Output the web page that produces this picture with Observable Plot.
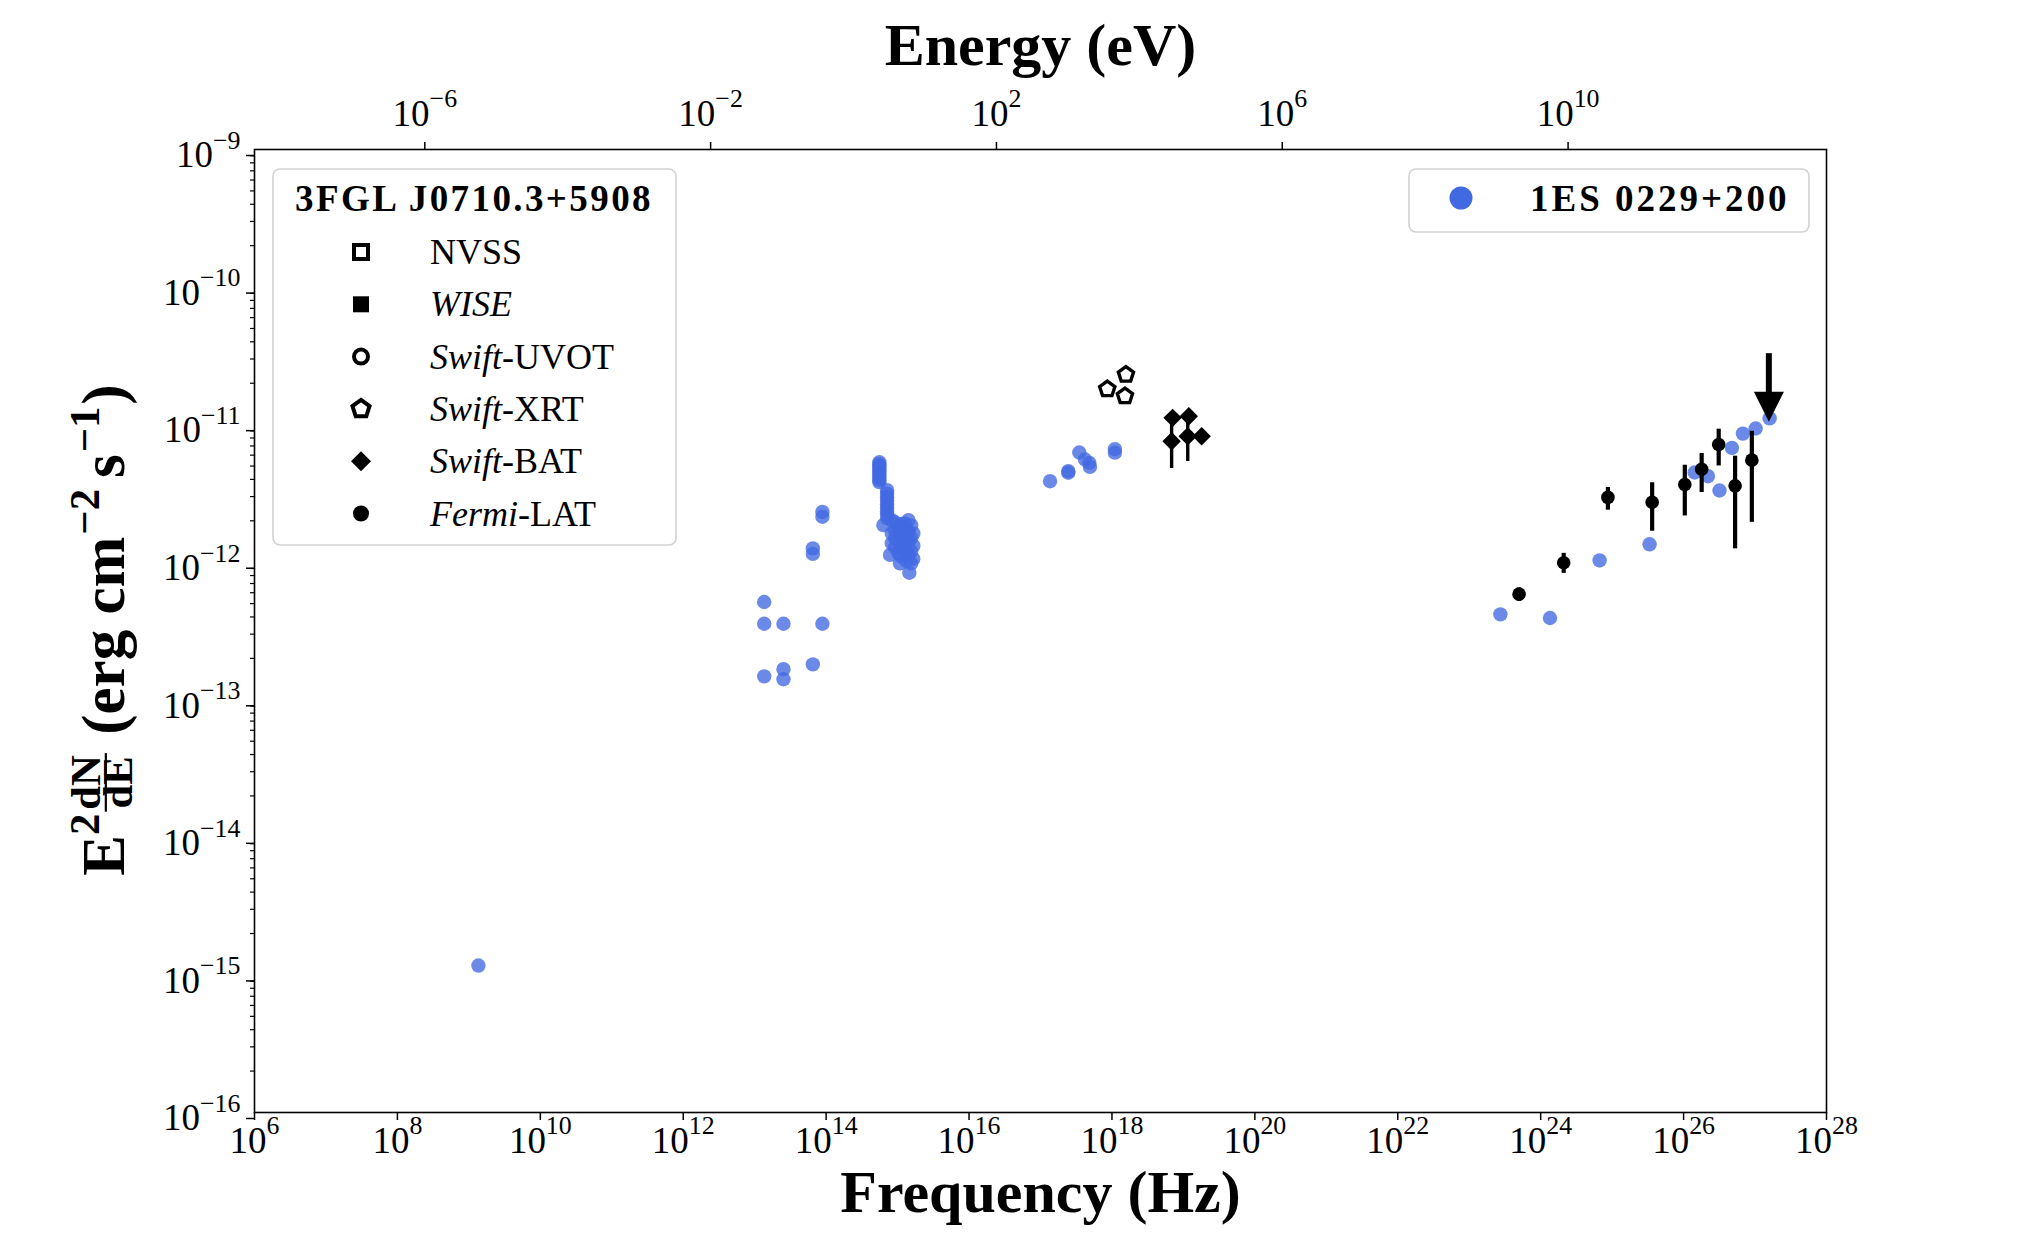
<!DOCTYPE html>
<html>
<head>
<meta charset="utf-8">
<script src="https://cdn.jsdelivr.net/npm/d3@7"></script>
<script src="https://cdn.jsdelivr.net/npm/@observablehq/plot@0.6"></script>
<style>
  html, body { margin: 0; padding: 0; background: #fff; }
  #chart svg { display: block; overflow: visible; }
</style>
</head>
<body>
<div id="chart"></div>
<script>
// Planck constant in eV·s, links the frequency axis to the energy axis
const H_EV = 4.135667696e-15;
const SERIF = "'Liberation Serif', 'DejaVu Serif', serif";

// ---- 1ES 0229+200 : archival SED points [frequency Hz, νFν erg cm^-2 s^-1]
const sedRadio = [[1.36e9, 1.17e-15]];
const sedInfrared = [
  [1.36e13, 5.14e-13], [1.36e13, 3.57e-13], [1.36e13, 1.48e-13],
  [2.53e13, 3.57e-13], [2.53e13, 1.67e-13], [2.53e13, 1.41e-13],
  [6.52e13, 1.26e-12], [6.52e13, 1.15e-12], [6.52e13, 1.81e-13],
  [8.87e13, 2.32e-12], [8.87e13, 2.14e-12], [8.87e13, 3.57e-13]
];
const sedOpticalUV = [
  [5.56e14, 5.33e-12], [5.56e14, 5.16e-12], [5.56e14, 4.99e-12], [5.56e14, 4.83e-12],
  [5.56e14, 4.67e-12], [5.56e14, 4.52e-12], [5.56e14, 4.37e-12], [5.56e14, 4.23e-12],
  [5.56e14, 4.09e-12], [5.56e14, 3.95e-12], [5.56e14, 3.82e-12],
  [7.13e14, 3.34e-12], [7.13e14, 3.15e-12], [7.13e14, 2.97e-12], [7.13e14, 2.80e-12],
  [7.13e14, 2.64e-12], [7.13e14, 2.50e-12], [7.13e14, 2.35e-12], [7.13e14, 2.22e-12],
  [7.13e14, 2.09e-12], [6.33e14, 1.86e-12],
  [8.30e14, 2.02e-12], [8.30e14, 1.62e-12], [8.30e14, 1.37e-12], [7.85e14, 1.13e-12],
  [9.20e14, 1.95e-12], [9.20e14, 1.70e-12], [9.20e14, 1.50e-12], [9.20e14, 1.28e-12],
  [1.03e15, 1.81e-12], [1.03e15, 1.45e-12], [1.03e15, 1.16e-12], [1.08e15, 9.80e-13],
  [1.12e15, 1.90e-12], [1.12e15, 1.65e-12], [1.12e15, 1.38e-12], [1.12e15, 1.10e-12],
  [1.20e15, 1.53e-12], [1.20e15, 1.22e-12], [1.27e15, 1.91e-12],
  [1.33e15, 1.75e-12], [1.33e15, 1.45e-12], [1.33e15, 1.22e-12], [1.33e15, 1.02e-12],
  [1.42e15, 2.02e-12], [1.42e15, 1.66e-12], [1.42e15, 1.37e-12], [1.42e15, 1.13e-12],
  [1.46e15, 8.38e-13],
  [1.55e15, 1.85e-12], [1.55e15, 1.50e-12], [1.55e15, 1.20e-12], [1.55e15, 9.80e-13],
  [1.66e15, 1.62e-12], [1.66e15, 1.32e-12], [1.66e15, 1.06e-12]
];
const sedXray = [
  [1.36e17, 3.88e-12], [2.45e17, 4.59e-12], [2.45e17, 4.47e-12],
  [3.49e17, 6.27e-12], [4.19e17, 5.58e-12], [4.82e17, 5.27e-12],
  [4.92e17, 4.93e-12], [1.10e18, 6.64e-12], [1.10e18, 6.26e-12]
];
const sedGamma = [
  [2.73e23, 4.18e-13], [1.35e24, 3.93e-13], [6.68e24, 1.03e-12],
  [3.34e25, 1.35e-12], [1.43e26, 4.49e-12], [2.19e26, 4.22e-12],
  [3.18e26, 3.32e-12], [4.74e26, 6.78e-12], [6.76e26, 8.61e-12],
  [1.02e27, 9.37e-12], [1.60e27, 1.11e-11]
];

// ---- 3FGL J0710.3+5908
// Swift-XRT [frequency, flux]
const xrtPoints = [[8.6e17, 1.81e-11], [1.52e18, 1.61e-11], [1.57e18, 2.31e-11]];
// Swift-BAT [frequency, flux, lower, upper]
const batPoints = [
  [7.06e18, 1.12e-11, 1.05e-11, 1.20e-11],
  [1.19e19, 1.15e-11, 1.08e-11, 1.22e-11],
  [6.84e18, 7.57e-12, 4.80e-12, 1.03e-11],
  [1.15e19, 8.24e-12, 5.40e-12, 1.10e-11],
  [1.80e19, 8.24e-12, 7.40e-12, 9.10e-12]
];
// Fermi-LAT [frequency, flux, lower, upper]
const latPoints = [
  [4.98e23, 5.86e-13, 5.20e-13, 6.50e-13],
  [2.10e24, 9.91e-13, 8.30e-13, 1.16e-12],
  [8.73e24, 2.96e-12, 2.39e-12, 3.49e-12],
  [3.63e25, 2.73e-12, 1.68e-12, 3.78e-12],
  [1.04e26, 3.67e-12, 2.17e-12, 5.07e-12],
  [1.79e26, 4.74e-12, 3.21e-12, 6.17e-12],
  [3.10e26, 7.17e-12, 5.01e-12, 9.27e-12],
  [5.26e26, 3.59e-12, 1.25e-12, 5.90e-12],
  [9.02e26, 5.52e-12, 1.95e-12, 8.95e-12]
];
// Fermi-LAT upper limit [frequency, top of shaft, limit]
const latUpperLimits = [[1.56e27, 3.28e-11, 1.05e-11]];

// ---- axis ticks
const freqTicks = [1e6, 1e8, 1e10, 1e12, 1e14, 1e16, 1e18, 1e20, 1e22, 1e24, 1e26, 1e28];
const energyTicks = [1e-6, 1e-2, 1e2, 1e6, 1e10];
const fluxTicks = [1e-16, 1e-15, 1e-14, 1e-13, 1e-12, 1e-11, 1e-10, 1e-9];
const fluxMinorTicks = fluxTicks.slice(0, -1).flatMap(d => [2, 3, 4, 5, 6, 7, 8, 9].map(k => k * d));

// ---- legend entries
const sourceName = "3FGL J0710.3+5908";
const referenceName = "1ES 0229+200";
const legendEntries = [
  {parts: [["NVSS", false]], marker: "squareOpen"},
  {parts: [["WISE", true]], marker: "square"},
  {parts: [["Swift", true], ["-UVOT", false]], marker: "circleOpen"},
  {parts: [["Swift", true], ["-XRT", false]], marker: "pentagon"},
  {parts: [["Swift", true], ["-BAT", false]], marker: "diamond"},
  {parts: [["Fermi", true], ["-LAT", false]], marker: "dot"}
];

const BLUE = "#4169E1";
const TICK_FONT = 37;

// custom marker shapes
const pentagon = {
  draw(ctx, size) {
    const r = Math.sqrt(size / Math.PI);
    for (let i = 0; i < 5; ++i) {
      const a = -Math.PI / 2 + i * 2 * Math.PI / 5;
      const px = r * Math.cos(a), py = r * Math.sin(a);
      if (i === 0) ctx.moveTo(px, py); else ctx.lineTo(px, py);
    }
    ctx.closePath();
  }
};
const arrowHead = {
  draw(ctx, size) {
    const r = Math.sqrt(size / Math.PI);
    ctx.moveTo(0, 0);
    ctx.lineTo(-r, -2 * r);
    ctx.lineTo(r, -2 * r);
    ctx.closePath();
  }
};

const expLabel = v => String(Math.round(Math.log10(v)));

const referenceSED = [
  ...sedRadio, ...sedInfrared, ...sedOpticalUV, ...sedXray, ...sedGamma
].map(([nu, f]) => ({nu, f}));
const xrt = xrtPoints.map(([nu, f]) => ({nu, f}));
const bat = batPoints.map(([nu, f, lo, hi]) => ({nu, f, lo, hi}));
const lat = latPoints.map(([nu, f, lo, hi]) => ({nu, f, lo, hi}));
const ul = latUpperLimits.map(([nu, top, lim]) => ({nu, top, lim}));

const chart = Plot.plot({
  width: 2032,
  height: 1250,
  marginLeft: 254,
  marginRight: 206,
  marginTop: 149,
  marginBottom: 138,
  style: {fontFamily: SERIF, background: "#fff", color: "#000"},
  x: {type: "log", domain: [1e6, 1e28]},
  y: {type: "log", domain: [1e-16, 1e-9]},
  marks: [
    Plot.axisX({anchor: "bottom", ticks: freqTicks, tickFormat: expLabel, tickSize: 8,
      tickPadding: 6, fontSize: TICK_FONT, strokeWidth: 1.5, label: null}),
    Plot.axisX({anchor: "top", ticks: energyTicks.map(e => e / H_EV),
      tickFormat: nu => expLabel(nu * H_EV), tickSize: 8, tickPadding: 16,
      fontSize: TICK_FONT, strokeWidth: 1.5, label: null}),
    Plot.axisY({anchor: "left", ticks: fluxTicks, tickFormat: expLabel, tickSize: 8,
      tickPadding: 6, fontSize: TICK_FONT, strokeWidth: 1.5, dy: 6, label: null}),
    Plot.axisY({anchor: "left", ticks: fluxMinorTicks, tickFormat: () => "", tickSize: 4,
      strokeWidth: 1.2, label: null}),
    Plot.frame({stroke: "#000", strokeWidth: 1.6}),

    // 1ES 0229+200
    Plot.dot(referenceSED, {x: "nu", y: "f", r: 7.2, fill: BLUE, fillOpacity: 0.78}),

    // 3FGL J0710.3+5908
    Plot.dot(xrt, {x: "nu", y: "f", symbol: pentagon, r: 8, fill: "none", stroke: "#000", strokeWidth: 3.4}),
    Plot.ruleX(bat, {x: "nu", y1: "lo", y2: "hi", stroke: "#000", strokeWidth: 3.4}),
    Plot.dot(bat, {x: "nu", y: "f", symbol: "diamond2", r: 8.3, fill: "#000"}),
    Plot.ruleX(lat, {x: "nu", y1: "lo", y2: "hi", stroke: "#000", strokeWidth: 4.2}),
    Plot.dot(lat, {x: "nu", y: "f", r: 6.8, fill: "#000"}),
    Plot.ruleX(ul, {x: "nu", y1: "top", y2: "lim", stroke: "#000", strokeWidth: 6, insetBottom: 24}),
    Plot.dot(ul, {x: "nu", y: "lim", symbol: arrowHead, r: 15, fill: "#000"}),

    // axis titles
    Plot.text(["Energy (eV)"], {frameAnchor: "top", lineAnchor: "middle", text: d => d, dy: -104,
      fontSize: 60, fontWeight: "bold", fill: "#000"}),
    Plot.text(["Frequency (Hz)"], {frameAnchor: "bottom", lineAnchor: "middle", text: d => d, dy: 80,
      fontSize: 60, fontWeight: "bold", fill: "#000"})
  ]
});

document.getElementById("chart").appendChild(chart);
const svg = d3.select(chart);

// tick labels as powers of ten
svg.selectAll('g[aria-label$="tick label"] text').each(function () {
  const exp = this.textContent;
  if (!exp) return;
  const t = d3.select(this);
  t.text(null);
  t.append("tspan").attr("font-size", TICK_FONT).text("10");
  t.append("tspan").attr("dy", -0.5 * TICK_FONT).attr("font-size", 0.7 * TICK_FONT)
    .text(exp.replace("-", "\u2212"));
});

// y-axis title: E² dN/dE (erg cm⁻² s⁻¹)
{
  const F = 61;
  const outer = svg.append("g").attr("transform", `translate(${104 + 0.33 * F},630) rotate(-90)`);
  const g = outer.append("g").attr("font-weight", "bold").attr("fill", "#000")
    .attr("font-family", SERIF).attr("text-anchor", "start");
  let cx = 0;
  const piece = (str, size, dy, gap = 0) => {
    const t = g.append("text").attr("x", cx).attr("y", dy).attr("font-size", size).text(str);
    cx += t.node().getComputedTextLength() + gap;
  };
  piece("E", F, 0);
  piece("2", 0.7 * F, -0.42 * F, 2);
  // fraction dN / dE
  const fs = 0.7 * F, bar = -0.3 * F;
  const num = g.append("text").attr("y", bar - 0.1 * F).attr("font-size", fs).attr("text-anchor", "middle").text("dN");
  const den = g.append("text").attr("y", bar + 0.1 * F + 0.47 * fs).attr("font-size", fs).attr("text-anchor", "middle").text("dE");
  const fw = Math.max(num.node().getComputedTextLength(), den.node().getComputedTextLength()) + 4;
  num.attr("x", cx + fw / 2);
  den.attr("x", cx + fw / 2);
  g.append("line").attr("x1", cx).attr("x2", cx + fw).attr("y1", bar).attr("y2", bar)
    .attr("stroke", "#000").attr("stroke-width", 2.2);
  cx += fw + 0.3 * F;
  piece("(erg cm", F, 0, 2);
  piece("\u22122", 0.7 * F, -0.42 * F, 0.18 * F);
  piece("s", F, 0, 2);
  piece("\u22121", 0.7 * F, -0.42 * F, 2);
  piece(")", F, 0);
  g.attr("transform", `translate(${-cx / 2},0)`);
}

// legend for 3FGL J0710.3+5908
{
  const lg = svg.append("g").attr("font-family", SERIF).attr("text-anchor", "start");
  lg.append("rect").attr("x", 273).attr("y", 169).attr("width", 403).attr("height", 376).attr("rx", 7)
    .attr("fill", "#fff").attr("fill-opacity", 0.8).attr("stroke", "#d2d2d2").attr("stroke-width", 1.6);
  lg.append("text").attr("x", 474).attr("y", 211).attr("text-anchor", "middle")
    .attr("font-size", 37).attr("font-weight", "bold").attr("letter-spacing", 2.4).text(sourceName);
  const shapes = {
    squareOpen: {type: d3.symbolSquare, size: 14 * 14, fill: "none", stroke: "#000"},
    square: {type: d3.symbolSquare, size: 16 * 16, fill: "#000", stroke: "none"},
    circleOpen: {type: d3.symbolCircle, size: Math.PI * 7 * 7, fill: "none", stroke: "#000"},
    pentagon: {type: pentagon, size: Math.PI * 9 * 9, fill: "none", stroke: "#000"},
    diamond: {type: d3.symbolDiamond2, size: Math.PI * 9 * 9, fill: "#000", stroke: "none"},
    dot: {type: d3.symbolCircle, size: Math.PI * 8 * 8, fill: "#000", stroke: "none"}
  };
  legendEntries.forEach((e, i) => {
    const cy = 252 + i * 52.3;
    const s = shapes[e.marker];
    lg.append("path").attr("transform", `translate(361,${cy})`)
      .attr("d", d3.symbol(s.type, s.size)())
      .attr("fill", s.fill).attr("stroke", s.stroke).attr("stroke-width", 4);
    const t = lg.append("text").attr("x", 430).attr("y", cy + 12).attr("font-size", 36);
    e.parts.forEach(([str, italic]) => {
      t.append("tspan").attr("font-style", italic ? "italic" : "normal").text(str);
    });
  });
}

// legend for 1ES 0229+200
{
  const lg = svg.append("g").attr("font-family", SERIF).attr("text-anchor", "start");
  lg.append("rect").attr("x", 1409).attr("y", 169).attr("width", 400).attr("height", 63).attr("rx", 7)
    .attr("fill", "#fff").attr("fill-opacity", 0.8).attr("stroke", "#d2d2d2").attr("stroke-width", 1.6);
  lg.append("circle").attr("cx", 1461).attr("cy", 198).attr("r", 11.5).attr("fill", BLUE);
  lg.append("text").attr("x", 1530).attr("y", 211).attr("font-size", 37).attr("font-weight", "bold")
    .attr("letter-spacing", 3).text(referenceName);
}
</script>
</body>
</html>
